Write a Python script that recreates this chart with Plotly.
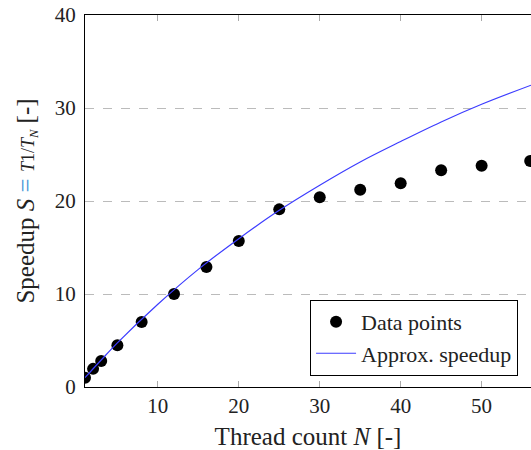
import plotly.graph_objects as go

# Measured data points
threads = [1, 2, 3, 5, 8, 12, 16, 20, 25, 30, 35, 40, 45, 50, 56]
speedup = [1.0, 1.95, 2.8, 4.5, 7.0, 10.0, 12.9, 15.7, 19.1, 20.4, 21.2, 21.9, 23.3, 23.8, 24.3]

# Approximated speedup curve
approx_n = [1, 3, 5, 10, 15, 20, 25, 30, 35, 40, 45, 50, 56.1]
approx_s = [1.0, 2.9, 4.75, 8.9, 12.65, 15.95, 19.0, 21.7, 24.2, 26.4, 28.5, 30.4, 32.45]

x_ticks = [10, 20, 30, 40, 50]
y_ticks = [0, 10, 20, 30, 40]

FONT = "Liberation Serif"

fig = go.Figure()
fig.add_trace(go.Scatter(
    x=threads, y=speedup, mode="markers", name="Data points",
    marker=dict(color="black", size=12),
))
fig.add_trace(go.Scatter(
    x=approx_n, y=approx_s, mode="lines", name="Approx. speedup",
    line=dict(color="rgb(60,60,255)", width=1.2, shape="spline"),
))

y_title = ("Speedup <i>S</i> <span style='color:rgb(70,150,215)'>=</span> "
           "<span style='font-size:18px'><i>T</i>1/<i>T<sub>N</sub></i></span> [-]")

fig.update_layout(
    width=531, height=450,
    margin=dict(l=85, r=0, t=15, b=63),
    plot_bgcolor="white", paper_bgcolor="white",
    font=dict(family=FONT, size=21, color="#222"),
    legend=dict(
        x=0.971, y=0.03, xanchor="right", yanchor="bottom",
        bordercolor="black", borderwidth=1, bgcolor="white",
        font=dict(family=FONT, size=22, color="#222"),
        tracegroupgap=0, itemwidth=40,
    ),
    xaxis=dict(
        range=[1, 56.1], tickvals=x_ticks, ticks="inside", ticklen=6,
        tickcolor="#aaa", tickwidth=1, mirror="ticks",
        showline=True, linecolor="black", linewidth=1.2,
        showgrid=False, zeroline=False,
        title=dict(text="Thread count <i>N</i> [-]", standoff=14),
        tickfont=dict(size=21),
    ),
    yaxis=dict(
        range=[0, 40], tickvals=y_ticks, ticks="",
        showline=True, linecolor="black", linewidth=1.2, mirror=False,
        showgrid=True, gridcolor="#bbb", griddash="dash", gridwidth=1,
        zeroline=False, ticklabelstandoff=4,
        title=dict(text=y_title, standoff=12),
        tickfont=dict(size=21),
    ),
)

fig.write_html("out.html")
